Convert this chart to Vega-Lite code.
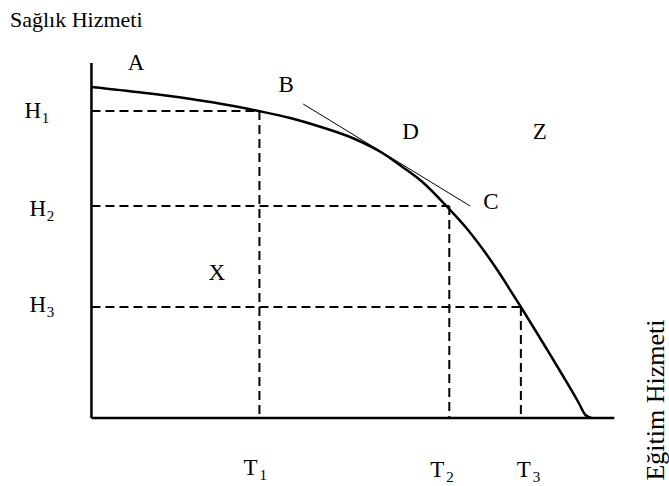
{
  "$schema": "https://vega.github.io/schema/vega-lite/v6.json",
  "width": 669,
  "height": 486,
  "autosize": {"type": "fit", "contains": "padding"},
  "padding": 0,
  "background": "white",
  "config": {"view": {"stroke": null}, "text": {"font": "Liberation Serif", "color": "black"}},
  "datasets": {
    "curve": [
      {"x": 0, "y": 331}, {"x": 50, "y": 325.5}, {"x": 100, "y": 319}, {"x": 140, "y": 312.5},
      {"x": 168, "y": 307}, {"x": 200, "y": 300}, {"x": 231, "y": 291}, {"x": 265, "y": 279},
      {"x": 291, "y": 266}, {"x": 313, "y": 251}, {"x": 333, "y": 236}, {"x": 358, "y": 211},
      {"x": 378, "y": 189}, {"x": 395, "y": 167}, {"x": 411, "y": 144}, {"x": 425, "y": 122},
      {"x": 432, "y": 111}, {"x": 458, "y": 69}, {"x": 475, "y": 41}, {"x": 490, "y": 15.5},
      {"x": 497, "y": 3}, {"x": 503, "y": 0}
    ],
    "axes": [
      {"x": 0, "y": 355, "x2": 0, "y2": 0},
      {"x": 0, "y": 0, "x2": 526, "y2": 0}
    ],
    "tangent": [
      {"x": 213, "y": 314, "x2": 381, "y2": 212}
    ],
    "dashed": [
      {"x": 0, "y": 307, "x2": 169, "y2": 307},
      {"x": 169, "y": 307, "x2": 169, "y2": 0},
      {"x": 0, "y": 212, "x2": 360, "y2": 212},
      {"x": 360, "y": 212, "x2": 360, "y2": 0},
      {"x": 0, "y": 111, "x2": 432, "y2": 111},
      {"x": 432, "y": 111, "x2": 432, "y2": 0}
    ],
    "letters": [
      {"t": "A", "x": 45, "y": 348},
      {"t": "B", "x": 196, "y": 326},
      {"t": "D", "x": 321, "y": 279},
      {"t": "Z", "x": 451, "y": 279},
      {"t": "C", "x": 402, "y": 209},
      {"t": "X", "x": 126, "y": 138}
    ],
    "subbed": [
      {"t": "H", "s": "1", "x": -59, "y": 300},
      {"t": "H", "s": "2", "x": -54, "y": 202},
      {"t": "H", "s": "3", "x": -54, "y": 106},
      {"t": "T", "s": "1", "x": 160, "y": -57},
      {"t": "T", "s": "2", "x": 348, "y": -59},
      {"t": "T", "s": "3", "x": 435, "y": -59}
    ],
    "ytitle": [{"t": "Sağlık Hizmeti", "x": -82, "y": 391}],
    "xtitle": [{"t": "Eğitim Hizmeti", "x": 576, "y": 18}]
  },
  "encoding": {
    "x": {"field": "x", "type": "quantitative", "scale": {"domain": [-92, 577], "nice": false, "zero": false}, "axis": null},
    "y": {"field": "y", "type": "quantitative", "scale": {"domain": [-68, 418], "nice": false, "zero": false}, "axis": null}
  },
  "layer": [
    {
      "data": {"name": "dashed"},
      "mark": {"type": "rule", "color": "black", "strokeWidth": 2, "strokeDash": [9, 5]},
      "encoding": {"x2": {"field": "x2"}, "y2": {"field": "y2"}}
    },
    {
      "data": {"name": "axes"},
      "mark": {"type": "rule", "color": "black", "strokeWidth": 2.5},
      "encoding": {"x2": {"field": "x2"}, "y2": {"field": "y2"}}
    },
    {
      "data": {"name": "tangent"},
      "mark": {"type": "rule", "color": "black", "strokeWidth": 1},
      "encoding": {"x2": {"field": "x2"}, "y2": {"field": "y2"}}
    },
    {
      "data": {"name": "curve"},
      "mark": {"type": "line", "color": "black", "strokeWidth": 2.5, "interpolate": "monotone"},
      "encoding": {}
    },
    {
      "data": {"name": "letters"},
      "mark": {"type": "text", "fontSize": 23, "align": "center", "baseline": "alphabetic"},
      "encoding": {"text": {"field": "t"}}
    },
    {
      "data": {"name": "subbed"},
      "mark": {"type": "text", "fontSize": 23, "align": "center", "baseline": "alphabetic"},
      "encoding": {"text": {"field": "t"}}
    },
    {
      "data": {"name": "subbed"},
      "mark": {"type": "text", "fontSize": 15, "align": "left", "baseline": "alphabetic", "dx": 9, "dy": 5},
      "encoding": {"text": {"field": "s"}}
    },
    {
      "data": {"name": "ytitle"},
      "mark": {"type": "text", "fontSize": 22, "align": "left", "baseline": "alphabetic"},
      "encoding": {"text": {"field": "t"}}
    },
    {
      "data": {"name": "xtitle"},
      "mark": {"type": "text", "fontSize": 26, "align": "center", "baseline": "alphabetic", "angle": 270},
      "encoding": {"text": {"field": "t"}}
    }
  ]
}
